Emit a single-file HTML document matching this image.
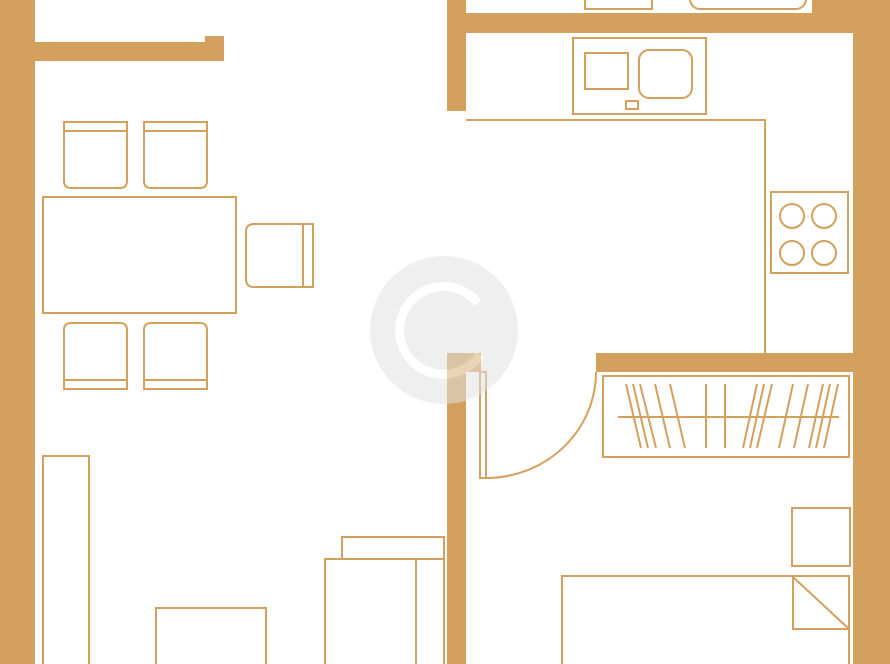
<!DOCTYPE html>
<html><head><meta charset="utf-8"><style>html,body{margin:0;padding:0;background:#fff}svg{display:block}</style></head>
<body>
<svg width="890" height="664" viewBox="0 0 890 664" xmlns="http://www.w3.org/2000/svg">
<g fill="#d4a05e">
<rect x="0" y="0" width="35" height="664"/>
<rect x="35" y="42" width="189" height="19"/>
<rect x="205" y="36" width="19" height="25"/>
<rect x="447" y="0" width="19" height="111"/>
<rect x="447" y="13" width="443" height="20"/>
<rect x="812" y="0" width="78" height="33"/>
<rect x="853" y="0" width="37" height="664"/>
<rect x="447" y="353" width="34" height="19"/>
<rect x="447" y="353" width="19" height="311"/>
<rect x="596" y="353" width="257" height="19"/>
</g>
<g fill="none" stroke="#d4a05e" stroke-width="2">
<rect x="585" y="-5" width="67" height="14"/>
<rect x="690" y="-20" width="116" height="29" rx="10"/>
<polyline points="466,120 765,120 765,353"/>
<rect x="573" y="38" width="133" height="76"/>
<rect x="585" y="53" width="43" height="36"/>
<rect x="639" y="50" width="53" height="48" rx="10"/>
<rect x="626" y="101" width="12" height="8"/>
<rect x="771" y="192" width="77" height="81"/>
<circle cx="792" cy="216" r="12"/><circle cx="824" cy="216" r="12"/>
<circle cx="792" cy="253" r="12"/><circle cx="824" cy="253" r="12"/>
<rect x="480" y="372" width="6" height="106"/>
<path d="M486,478 A110,106 0 0 0 596,372"/>
<rect x="603" y="376" width="246" height="81"/>
<line x1="618" y1="417" x2="839" y2="417"/>
<g>
<line x1="626" y1="384" x2="641" y2="448"/><line x1="633" y1="384" x2="648" y2="448"/>
<line x1="640" y1="384" x2="656" y2="448"/><line x1="655" y1="384" x2="670" y2="448"/>
<line x1="670" y1="384" x2="685" y2="448"/><line x1="706" y1="384" x2="706" y2="448"/>
<line x1="725" y1="384" x2="725" y2="448"/><line x1="757" y1="384" x2="743" y2="448"/>
<line x1="764" y1="384" x2="750" y2="448"/><line x1="772" y1="384" x2="757" y2="448"/>
<line x1="793" y1="384" x2="779" y2="448"/><line x1="808" y1="384" x2="794" y2="448"/>
<line x1="823" y1="384" x2="809" y2="448"/><line x1="830" y1="384" x2="816" y2="448"/>
<line x1="838" y1="384" x2="824" y2="448"/>
</g>
<rect x="792" y="508" width="58" height="58"/>
<rect x="562" y="576" width="287" height="100"/>
<rect x="793" y="576" width="56" height="53"/>
<line x1="793" y1="577" x2="849" y2="629"/>
<path d="M64,122 H127 V181 Q127,188 120,188 H71 Q64,188 64,181 Z"/><line x1="64" y1="131" x2="127" y2="131"/>
<path d="M144,122 H207 V181 Q207,188 200,188 H151 Q144,188 144,181 Z"/><line x1="144" y1="131" x2="207" y2="131"/>
<rect x="43" y="197" width="193" height="116"/>
<path d="M313,224 V287 H254 Q246,287 246,279 V232 Q246,224 254,224 Z"/><line x1="303" y1="224" x2="303" y2="287"/>
<path d="M64,389 H127 V330 Q127,323 120,323 H71 Q64,323 64,330 Z"/><line x1="64" y1="380" x2="127" y2="380"/>
<path d="M144,389 H207 V330 Q207,323 200,323 H151 Q144,323 144,330 Z"/><line x1="144" y1="380" x2="207" y2="380"/>
<rect x="43" y="456" width="46" height="220"/>
<rect x="156" y="608" width="110" height="70"/>
<rect x="342" y="537" width="102" height="22"/>
<rect x="325" y="559" width="119" height="120"/>
<line x1="416" y1="559" x2="416" y2="664"/>
</g>
<g opacity="0.55">
<circle cx="444" cy="330" r="74" fill="#e2e2e2"/>
<path d="M478,303 A44,44 0 1 0 480,355" fill="none" stroke="#fff" stroke-width="9"/>
</g>
</svg>
</body></html>
